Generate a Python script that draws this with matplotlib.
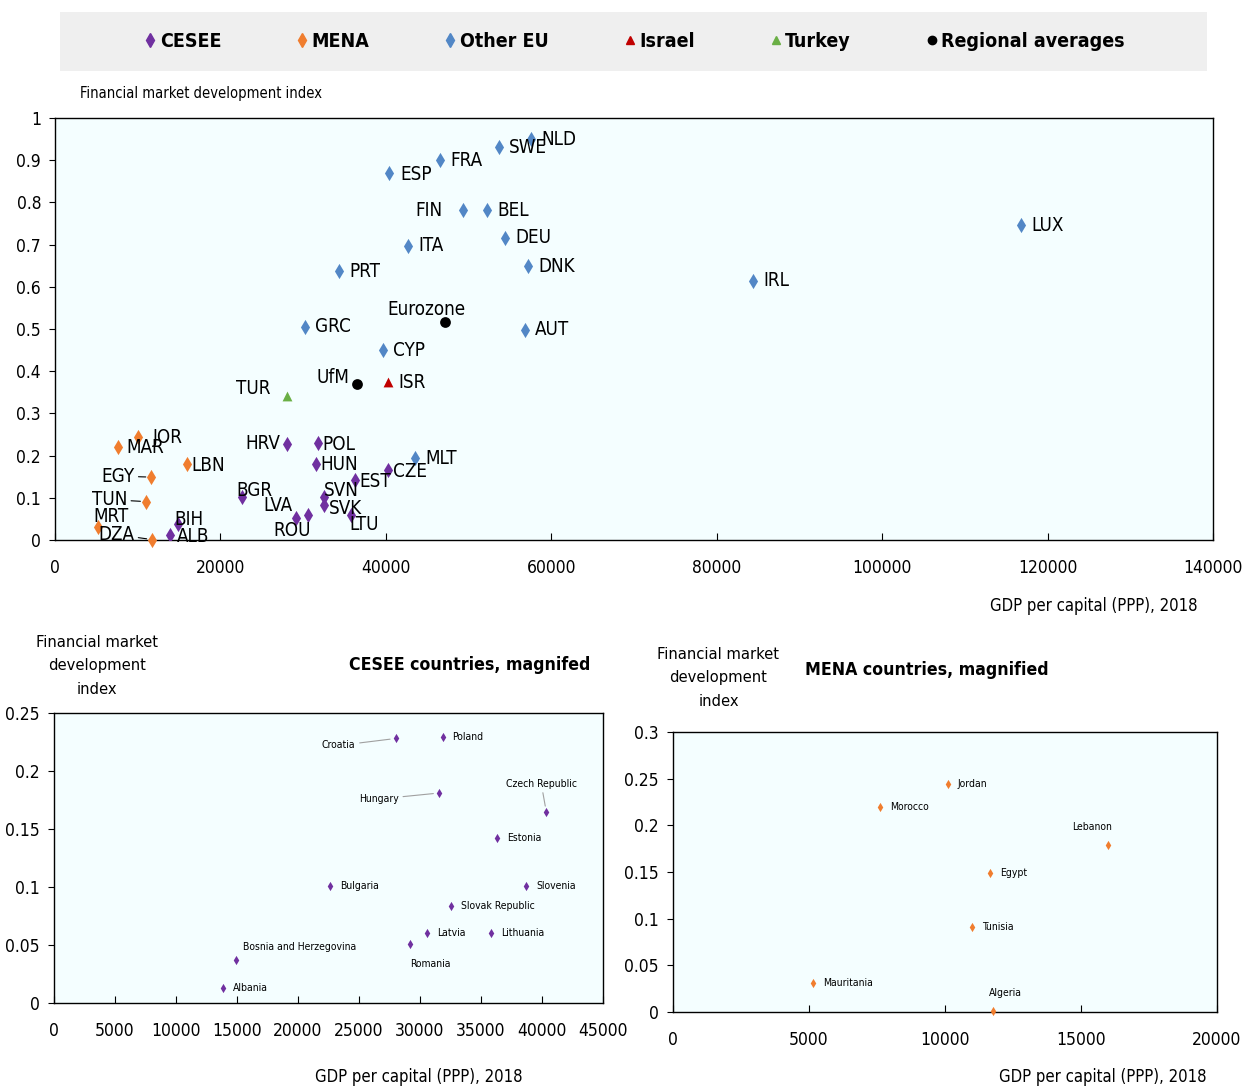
import numpy as np
import matplotlib
matplotlib.use('Agg')
import matplotlib.pyplot as plt
from matplotlib.lines import Line2D
from matplotlib.patches import Rectangle

plt.rcParams['font.family'] = ['Liberation Sans Narrow', 'DejaVu Sans']
plt.rcParams['font.stretch'] = 'condensed'

# ── Data (GDP per capita PPP 2018, financial market development index) ──────
eu_codes = ['NLD', 'SWE', 'FRA', 'ESP', 'FIN', 'BEL', 'DEU', 'ITA', 'DNK', 'PRT',
            'LUX', 'IRL', 'GRC', 'AUT', 'CYP', 'MLT']
eu_gdp = [57550, 53700, 46550, 40400, 49350, 52250, 54400, 42700, 57200, 34350,
          116800, 84400, 30250, 56800, 39650, 43550]
eu_fmd = [0.950, 0.931, 0.900, 0.870, 0.782, 0.782, 0.716, 0.697, 0.649, 0.637,
          0.746, 0.614, 0.505, 0.498, 0.450, 0.194]

cesee_codes = ['HRV', 'POL', 'HUN', 'CZE', 'EST', 'BGR', 'SVN', 'SVK', 'LVA', 'LTU',
               'ROU', 'BIH', 'ALB']
cesee_names = ['Croatia', 'Poland', 'Hungary', 'Czech Republic', 'Estonia', 'Bulgaria',
               'Slovenia', 'Slovak Republic', 'Latvia', 'Lithuania', 'Romania',
               'Bosnia and Herzegovina', 'Albania']
# magnified panel values
cesee_gdp = [28000, 31850, 31550, 40350, 36350, 22650, 38700, 32550, 30600, 35850,
             29200, 14900, 13850]
cesee_fmd = [0.228, 0.229, 0.181, 0.165, 0.142, 0.101, 0.101, 0.084, 0.060, 0.060,
             0.051, 0.037, 0.013]
# main panel values (Slovenia is plotted at a different GDP there)
cesee_gdp_main = [28000, 31850, 31550, 40300, 36300, 22600, 32500, 32500, 30600, 35800,
                  29150, 14900, 13850]
cesee_fmd_main = [0.228, 0.229, 0.181, 0.166, 0.142, 0.101, 0.102, 0.084, 0.060, 0.059,
                  0.051, 0.037, 0.013]

mena_codes = ['JOR', 'MAR', 'LBN', 'EGY', 'TUN', 'MRT', 'DZA']
mena_names = ['Jordan', 'Morocco', 'Lebanon', 'Egypt', 'Tunisia', 'Mauritania', 'Algeria']
mena_gdp = [10100, 7600, 16000, 11650, 11000, 5150, 11750]
mena_fmd = [0.244, 0.220, 0.179, 0.149, 0.091, 0.031, 0.001]

isr_gdp, isr_fmd = [40250], [0.374]
tur_gdp, tur_fmd = [28050], [0.341]
avg_names = ['Eurozone', 'UfM']
avg_gdp = [47150, 36500]
avg_fmd = [0.517, 0.370]

# ── Styles ──────────────────────────────────────────────────────────────────
C_CESEE = '#7030A0'
C_MENA = '#F07D2E'
C_EU = '#5287C6'
C_ISR = '#C00000'
C_TUR = '#6AAF45'
BG = '#F4FEFF'
TICK_FS = 12.5
LAB_FS = 13.5       # country codes, main chart
SMALL_FS = 7.5      # country names, magnified panels
AXLAB_FS = 12
TITLE_FS = 12.7

# label offsets in pixels (dx, dy, ha); default = right of marker
main_off = {
    'FIN': (-21, 0, 'right'), 'Eurozone': (-19, 12, 'center'), 'UfM': (-7, 6, 'right'),
    'TUR': (-16, 8, 'right'), 'HRV': (-6, 0, 'right'), 'POL': (4, -1, 'left'),
    'HUN': (4, -1, 'left'), 'EST': (4, -1, 'left'), 'CZE': (5, -2, 'left'),
    'BGR': (-6, 7, 'left'), 'LVA': (-16, 9, 'right'), 'ROU': (-4, -12, 'center'),
    'SVN': (0, 6, 'left'), 'SVK': (5, -4, 'left'), 'LTU': (-2, -9, 'left'),
    'BIH': (-4, 5, 'left'), 'ALB': (7, -2, 'left'), 'JOR': (14, 0, 'left'),
    'MAR': (9, 0, 'left'), 'LBN': (4, -1, 'left'), 'EGY': (-17, 1, 'right'),
    'TUN': (-19, 2, 'right'), 'MRT': (-4, 10, 'left'), 'DZA': (-18, 5, 'right'),
    'ESP': (11, -2, 'left'),
}
main_lead = ['EGY', 'TUN', 'DZA']

cesee_off = {
    'Croatia': (-40, -7, 'right'), 'Hungary': (-40, -6, 'right'),
    'Czech Republic': (-5, 28, 'center'), 'Romania': (20, -20, 'center'),
    'Bosnia and Herzegovina': (7, 13, 'left'),
}
cesee_lead = ['Croatia', 'Hungary', 'Czech Republic']
mena_off = {'Lebanon': (-16, 18, 'center'), 'Algeria': (13, 18, 'center')}


def label_points(ax, names, xs, ys, offsets, leaders, size, default=(10, 0, 'left'),
                 lead_color='black'):
    for n, x, y in zip(names, xs, ys):
        dx, dy, ha = offsets.get(n, default)
        kw = {}
        if n in leaders:
            kw['arrowprops'] = dict(arrowstyle='-', color=lead_color, lw=0.8,
                                    shrinkA=1, shrinkB=4)
        ax.annotate(n, (x, y), xytext=(dx, dy), textcoords='offset pixels',
                    ha=ha, va='center', fontsize=size, **kw)


def style_axes(ax):
    ax.set_facecolor(BG)
    for s in ax.spines.values():
        s.set_linewidth(1.0)
    ax.tick_params(axis='x', direction='in', length=5, pad=14, labelsize=TICK_FS)
    ax.tick_params(axis='y', direction='out', length=4, pad=6, labelsize=TICK_FS)


fig = plt.figure(figsize=(12.43, 10.90), dpi=100)

# ── Legend strip ────────────────────────────────────────────────────────────
fig.patches.append(Rectangle((0.0483, 0.9349), 0.9227, 0.0541, transform=fig.transFigure,
                             facecolor='#EFEFEF', edgecolor='none', zorder=0))
handles = [
    Line2D([], [], ls='none', marker='d', ms=7, color=C_CESEE, label='CESEE'),
    Line2D([], [], ls='none', marker='d', ms=7, color=C_MENA, label='MENA'),
    Line2D([], [], ls='none', marker='d', ms=7, color=C_EU, label='Other EU'),
    Line2D([], [], ls='none', marker='^', ms=6, color=C_ISR, label='Israel'),
    Line2D([], [], ls='none', marker='^', ms=6, color=C_TUR, label='Turkey'),
    Line2D([], [], ls='none', marker='o', ms=6, color='black', label='Regional averages'),
]
fig.legend(handles=handles, loc='center', bbox_to_anchor=(0.511, 0.962), ncol=6,
           frameon=False, handlelength=0.5, handletextpad=0.25, columnspacing=3.9,
           prop={'weight': 'bold', 'size': 14})

# ── Main chart ──────────────────────────────────────────────────────────────
ax = fig.add_axes([0.0442, 0.5046, 0.9317, 0.3871])
style_axes(ax)
ax.scatter(eu_gdp, eu_fmd, marker='d', s=60, color=C_EU, zorder=3, linewidths=0)
ax.scatter(cesee_gdp_main, cesee_fmd_main, marker='d', s=60, color=C_CESEE, zorder=3,
           linewidths=0)
ax.scatter(mena_gdp, mena_fmd, marker='d', s=60, color=C_MENA, zorder=3, linewidths=0,
           clip_on=False)
ax.scatter(isr_gdp, isr_fmd, marker='^', s=50, color=C_ISR, zorder=3, linewidths=0)
ax.scatter(tur_gdp, tur_fmd, marker='^', s=50, color=C_TUR, zorder=3, linewidths=0)
ax.scatter(avg_gdp, avg_fmd, marker='o', s=60, color='black', zorder=3, linewidths=0)

label_points(ax, eu_codes, eu_gdp, eu_fmd, main_off, main_lead, LAB_FS)
label_points(ax, cesee_codes, cesee_gdp_main, cesee_fmd_main, main_off, main_lead, LAB_FS)
label_points(ax, mena_codes, mena_gdp, mena_fmd, main_off, main_lead, LAB_FS)
label_points(ax, ['ISR'], isr_gdp, isr_fmd, main_off, main_lead, LAB_FS)
label_points(ax, ['TUR'], tur_gdp, tur_fmd, main_off, main_lead, LAB_FS)
label_points(ax, avg_names, avg_gdp, avg_fmd, main_off, main_lead, LAB_FS)

ax.set_xlim(0, 140000)
ax.set_ylim(0, 1)
ax.set_xticks(np.arange(0, 140001, 20000))
ax.set_yticks(np.round(np.arange(0, 1.01, 0.1), 1))
ax.set_yticklabels(['0', '0.1', '0.2', '0.3', '0.4', '0.5', '0.6', '0.7', '0.8', '0.9', '1'])
fig.text(0.0644, 0.9138, 'Financial market development index', fontsize=10.5,
         ha='left', va='center')
fig.text(0.963, 0.444, 'GDP per capital (PPP), 2018', fontsize=AXLAB_FS, ha='right',
         va='center')

# ── CESEE inset ─────────────────────────────────────────────────────────────
ax1 = fig.add_axes([0.0434, 0.0798, 0.4417, 0.2661])
style_axes(ax1)
ax1.scatter(cesee_gdp, cesee_fmd, marker='d', s=22, color=C_CESEE, zorder=3, linewidths=0)
label_points(ax1, cesee_names, cesee_gdp, cesee_fmd, cesee_off, cesee_lead, SMALL_FS,
             lead_color='#A0A0A0')
ax1.set_xlim(0, 45000)
ax1.set_ylim(0, 0.25)
ax1.set_xticks(np.arange(0, 45001, 5000))
ax1.set_yticks([0, 0.05, 0.1, 0.15, 0.2, 0.25])
ax1.set_yticklabels(['0', '0.05', '0.1', '0.15', '0.2', '0.25'])
fig.text(0.078, 0.389, 'Financial market\ndevelopment\nindex', fontsize=11.8,
         ha='center', va='center', linespacing=1.7)
fig.text(0.475, 0.390, 'CESEE countries, magnifed', fontsize=TITLE_FS, weight='bold',
         ha='right', va='center')
fig.text(0.337, 0.012, 'GDP per capital (PPP), 2018', fontsize=AXLAB_FS, ha='center',
         va='center')

# ── MENA inset ──────────────────────────────────────────────────────────────
ax2 = fig.add_axes([0.5414, 0.0716, 0.4377, 0.2568])
style_axes(ax2)
ax2.scatter(mena_gdp, mena_fmd, marker='d', s=22, color=C_MENA, zorder=3, linewidths=0,
            clip_on=False)
label_points(ax2, mena_names, mena_gdp, mena_fmd, mena_off, [], SMALL_FS)
ax2.set_xlim(0, 20000)
ax2.set_ylim(0, 0.3)
ax2.set_xticks(np.arange(0, 20001, 5000))
ax2.set_yticks([0, 0.05, 0.1, 0.15, 0.2, 0.25, 0.3])
ax2.set_yticklabels(['0', '0.05', '0.1', '0.15', '0.2', '0.25', '0.3'])
fig.text(0.578, 0.378, 'Financial market\ndevelopment\nindex', fontsize=11.8,
         ha='center', va='center', linespacing=1.7)
fig.text(0.648, 0.385, 'MENA countries, magnified', fontsize=TITLE_FS, weight='bold',
         ha='left', va='center')
fig.text(0.887, 0.012, 'GDP per capital (PPP), 2018', fontsize=AXLAB_FS, ha='center',
         va='center')

fig.savefig('out.png', dpi=100)
